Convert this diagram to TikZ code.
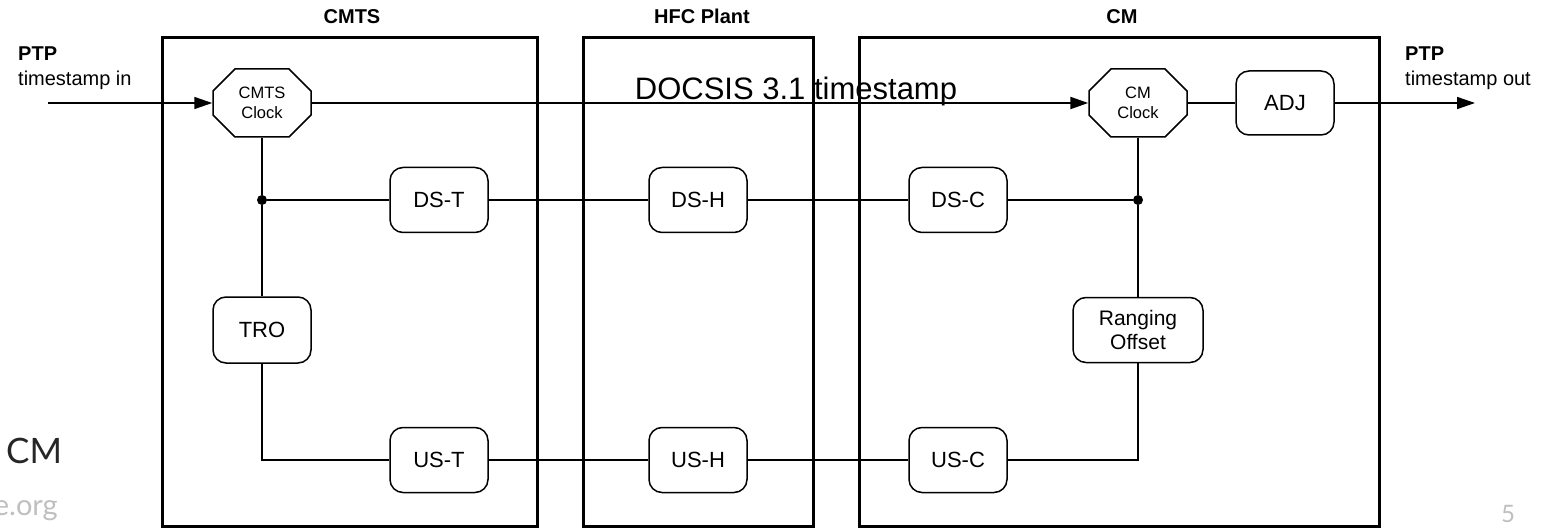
\documentclass[tikz,border=0pt]{standalone}
\usepackage{fontspec}
\setmainfont{Liberation Sans}
\newfontfamily\slidefont{Lato}
\usetikzlibrary{arrows.meta,shapes.misc}
\begin{document}
\begin{tikzpicture}[x=1pt,y=-1pt,
  container/.style={draw, line width=3pt, inner sep=0pt},
  title/.style={font=\bfseries\fontsize{20}{22}\selectfont, inner sep=0pt, anchor=base},
  blk/.style={draw, line width=1.5pt, rounded corners=13pt, minimum width=98pt, minimum height=65pt, inner sep=0pt, font=\fontsize{22}{25}\selectfont, align=center},
  clk/.style={draw, line width=1.5pt, chamfered rectangle, chamfered rectangle xsep=11pt, chamfered rectangle ysep=11pt, minimum width=98pt, minimum height=68pt, inner sep=0pt, font=\fontsize{16.5}{20}\selectfont, align=center},
  wire/.style={line width=1.5pt},
  arr/.style={line width=1.5pt, -{Triangle[length=18pt,width=12pt]}},
  jdot/.style={circle, fill, inner sep=0pt, minimum size=10pt},
  ptp/.style={align=left, font=\fontsize{20}{25}\selectfont, inner sep=0pt, anchor=north west}
]
\useasboundingbox (0,0) rectangle (1554,529);

% containers
\node[container, minimum width=375pt, minimum height=488pt] (cmts) at (349.5,282) {};
\node[container, minimum width=230pt, minimum height=488pt] (hfc) at (698,282) {};
\node[container, minimum width=520pt, minimum height=488pt] (cm) at (1119,282) {};
\node[title] (tcmts) at (352,24) {CMTS};
\node[title] (thfc) at (702,24) {HFC Plant};
\node[title] (tcm) at (1122,24) {CM};

% blocks
\node[clk] (cmtsclk) at (262,103) {CMTS\\Clock};
\node[clk] (cmclk) at (1138,103) {CM\\Clock};
\node[blk, minimum height=64pt] (adj) at (1285,103) {ADJ};
\node[blk] (dst) at (439,200) {DS-T};
\node[blk] (dsh) at (698,200) {DS-H};
\node[blk] (dsc) at (958,200) {DS-C};
\node[blk, minimum height=66pt] (tro) at (262,330) {TRO};
\node[blk, minimum width=130pt, font=\fontsize{21}{24}\selectfont] (rng) at (1138,330) {Ranging\\Offset};
\node[blk] (ust) at (439,460) {US-T};
\node[blk] (ush) at (698,460) {US-H};
\node[blk] (usc) at (958,460) {US-C};

\node[jdot] (j1) at (262,200) {};
\node[jdot] (j2) at (1138,200) {};

% texts
\node[ptp] (ptpin) at (18,47) {\textbf{PTP}\\timestamp in};
\node[ptp] (ptpout) at (1405,47) {\textbf{PTP}\\timestamp out};
\node[font=\fontsize{31}{33}\selectfont, inner sep=0pt, anchor=base] (docsis) at (796,100) {DOCSIS 3.1 timestamp};

% connectors
\coordinate (inS) at (48,103);
\coordinate (outE) at (1475,103);
\draw[arr] (inS) -- (cmtsclk.west);
\draw[arr, line width=2.2pt] (cmtsclk.east) -- (cmclk.west);
\draw[wire] (cmclk.east) -- (adj.west);
\draw[arr] (adj.east) -- (outE);
\draw[wire] (cmtsclk.south) -- (j1) -- (tro.north);
\draw[wire] (tro.south) |- (ust.west);
\draw[wire] (j1) -- (dst.west);
\draw[wire] (dst.east) -- (dsh.west);
\draw[wire] (dsh.east) -- (dsc.west);
\draw[wire] (dsc.east) -- (j2);
\draw[wire] (cmclk.south) -- (j2) -- (rng.north);
\draw[wire] (rng.south) |- (usc.east);
\draw[wire] (ust.east) -- (ush.west);
\draw[wire] (ush.east) -- (usc.west);

% slide remnants
\node[font=\slidefont\fontsize{35}{38}\selectfont, text=black!85, inner sep=0pt, anchor=base west] (cmlbl) at (6,463) {CM};
\node[font=\slidefont\fontsize{29}{32}\selectfont, text=black!25, inner sep=0pt, anchor=base east] (org) at (58,515) {e.org};
\node[font=\slidefont\fontsize{24}{26}\selectfont, text=black!25, inner sep=0pt, anchor=base] (pg) at (1508,522) {5};
\end{tikzpicture}
\end{document}
